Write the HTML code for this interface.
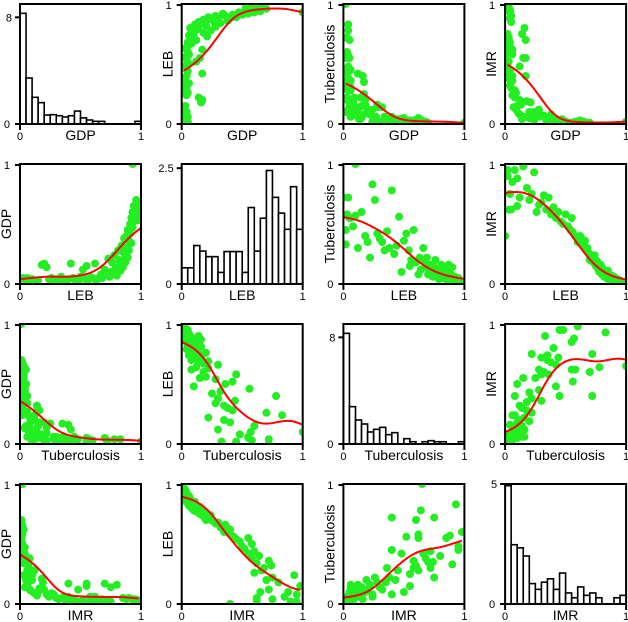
<!DOCTYPE html>
<html><head><meta charset="utf-8"><style>
html,body{margin:0;padding:0;background:#fff}
svg{display:block;font-family:"Liberation Sans","DejaVu Sans",sans-serif}
</style></head><body>
<svg id="chart" width="628" height="622" viewBox="0 0 628 622"></svg>
<script>
const varNames = ["GDP","LEB","Tuberculosis","IMR"];
const leb = [.02,.04,.06,.10,.12,.15,.18,.20,.22,.24,.26,.28,.30,.32,.34,.36,.38,.40,.42,.44,.46,.48,.50,.52,.54,.55,.56,.58,.60,.62,.63,.64,.66,.67,.68,.69,.70,.70,.72,.73,.74,.75,.76,.77,.78,.79,.80,.80,.81,.82,.82,.83,.84,.85,.85,.86,.86,.87,.87,.88,.88,.89,.89,.90,.90,.91,.91,.92,.92,.93,.93,.94,.94,.95,.95,.96,.96,.97,.97,.98,.98,.99,.99,1.0,.93,.10,.0,.05,.08,.03,.02];
const imr = [.95,.75,.85,.88,.72,.98,.80,.70,.75,.93,.60,.66,.68,.74,.62,.72,.58,.64,.55,.60,.52,.50,.58,.48,.45,.55,.43,.40,.35,.40,.38,.32,.36,.28,.30,.26,.24,.20,.22,.18,.24,.15,.19,.12,.10,.16,.14,.08,.12,.06,.10,.09,.07,.04,.11,.05,.08,.03,.06,.04,.07,.02,.05,.03,.06,.02,.04,.01,.03,.02,.04,.01,.02,.01,.03,.01,.02,.00,.01,.01,.00,.01,.00,.01,.02,.65,.40,.62,.95,.62,.9];
const tb = [.45,.72,.55,.57,.30,.60,.40,.35,.22,.83,.70,.42,.38,.35,.28,.44,.30,.78,.25,.32,.56,.10,.36,.42,.28,.15,.20,.45,.18,.08,.22,.12,.30,.18,.14,.22,.08,.12,.16,.10,.06,.14,.20,.08,.12,.04,.10,.06,.16,.05,.12,.08,.14,.04,.06,.10,.03,.02,.16,.06,.02,.04,.08,.02,.14,.05,.01,.03,.06,.02,.04,.01,.03,.02,.05,.01,.03,.02,.01,.02,.01,.02,.01,.00,.01,1.0,.72,.55,.48,.58,.33];
const gdp = [.03,.02,.05,.04,.02,.03,.16,.17,.14,.04,.05,.03,.04,.02,.06,.03,.02,.04,.17,.05,.03,.02,.06,.12,.04,.15,.03,.06,.05,.17,.03,.04,.06,.08,.05,.09,.07,.12,.08,.21,.06,.10,.18,.09,.24,.13,.07,.12,.28,.15,.20,.11,.32,.14,.27,.20,.38,.24,.18,.40,.30,.45,.22,.36,.28,.50,.42,.55,.34,.60,.47,.52,.65,.56,.62,.70,.58,.66,.53,.68,.60,.64,.55,.62,1.0,.02,.03,.02,.04,.03,.05];
const histGDP = [8.3,3.45,2.0,1.6,0.67,0.7,0.62,0.53,0.62,0.97,0.46,0.3,0.2,0.2,0,0,0,0,0,0.2];
const histLEB = [0.35,0.35,0.83,0.71,0.59,0.59,0.25,0.7,0.7,0.7,0.25,1.65,0.71,1.42,2.45,1.87,1.53,1.18,2.1,1.18];
const histTB = [8.3,2.8,1.8,1.5,0.9,1.1,1.25,0.7,0.85,0,0.4,0.17,0,0.17,0.25,0.17,0.17,0,0,0.17];
const histIMR = [4.93,2.47,2.34,2.0,0.85,0.61,0.91,1.05,0.61,1.29,0.46,0.26,0.71,0.36,0.46,0.26,0,0,0.26,0.36];
const histMax = [9,2.59,9,5];
const histTick = ["8","2.5","8","5"];
const histTickVal = [8,2.5,8,5];

const NS="http://www.w3.org/2000/svg";
const svg=document.getElementById('chart');
const cols=[gdp,leb,tb,imr];
const hists=[histGDP,histLEB,histTB,histIMR];
const W=121,H=120;
function mk(tag,attrs,parent){const e=document.createElementNS(NS,tag);for(const k in attrs)e.setAttribute(k,attrs[k]);(parent||svg).appendChild(e);return e;}
function smooth(xs,ys){
  const mn=Math.min(...xs),mx=Math.max(...xs);const pts=[];
  for(let i=0;i<=60;i++){const x0=mn+(mx-mn)*i/60;let sw=0,sy=0;
    for(let j=0;j<xs.length;j++){const w=Math.exp(-Math.pow((xs[j]-x0)/0.12,2)/2);sw+=w;sy+=w*ys[j];}
    pts.push([x0,sy/sw]);}
  return pts;
}
for(let r=0;r<4;r++){for(let c=0;c<4;c++){
  const L=20+c*161.7,T=4+r*160;
  const g=mk('g',{});
  
  
  const sx=v=>L+v*W;
  const cid='clip'+r+c;
  const cp=mk('clipPath',{id:cid},g);mk('rect',{x:L,y:T,width:W,height:H},cp);
  const inner=mk('g',{'clip-path':'url(#'+cid+')'},g);
  if(r===c){
    const hv=hists[c],ym=histMax[c];const bw=W/hv.length;
    const sy=v=>T+H-v/ym*H;
    hv.forEach((v,i)=>{if(v<=0)return;
      const b=mk('rect',{x:L+i*bw,y:sy(v),width:bw,height:T+H-sy(v),fill:'#fff',stroke:'#000','stroke-width':1.6},inner);
      
      
    });
    const ty=sy(histTickVal[c]);
    mk('line',{x1:L-5,y1:ty,x2:L,y2:ty,stroke:'#000','stroke-width':2},g);
    const t=mk('text',{x:L-8,y:ty+4,'font-size':11,'text-anchor':'end'},g);t.textContent=histTick[c];
    
    
  } else {
    const xs=cols[r],ys=cols[c];
    const sy=v=>T+H-v*H;
    xs.forEach((x,i)=>{const p=mk('circle',{cx:sx(x),cy:sy(ys[i]),r:4,fill:'#22ee22'},inner);
      
      });
    const pts=smooth(xs,ys);
    const ln=mk('polyline',{points:pts.map(p=>sx(p[0])+','+sy(p[1])).join(' '),fill:'none',stroke:'#ff0000','stroke-width':2},inner);
    
    
    const yl=mk('text',{x:0,y:0,'font-size':14,'text-anchor':'middle',transform:`translate(${L-9},${T+H/2}) rotate(-90)`},g);
    yl.textContent=varNames[c];
    
    
    mk('line',{x1:L-5,y1:T+1,x2:L,y2:T+1,stroke:'#000','stroke-width':2},g);
    const t1=mk('text',{x:L-10,y:T+5,'font-size':11,'text-anchor':'end'},g);t1.textContent="1";
    
    
  }
  mk('rect',{x:L,y:T,width:W,height:H,fill:'none',stroke:'#000','stroke-width':2},g);
  mk('line',{x1:L-5,y1:T+H,x2:L,y2:T+H,stroke:'#000','stroke-width':2},g);
  const t0=mk('text',{x:L-10,y:T+H+4,'font-size':11,'text-anchor':'end'},g);t0.textContent="0";
  
  
  [0,1].forEach(v=>{mk('line',{x1:sx(v),y1:T+H,x2:sx(v),y2:T+H+6,stroke:'#000','stroke-width':2},g);
    const tx=mk('text',{x:sx(v),y:T+H+16,'font-size':11,'text-anchor':'middle'},g);tx.textContent=String(v);
    
    });
  const xl=mk('text',{x:L+W/2,y:T+H+16,'font-size':14,'text-anchor':'middle'},g);xl.textContent=varNames[r];
  
  
}}
</script>
</body></html>
